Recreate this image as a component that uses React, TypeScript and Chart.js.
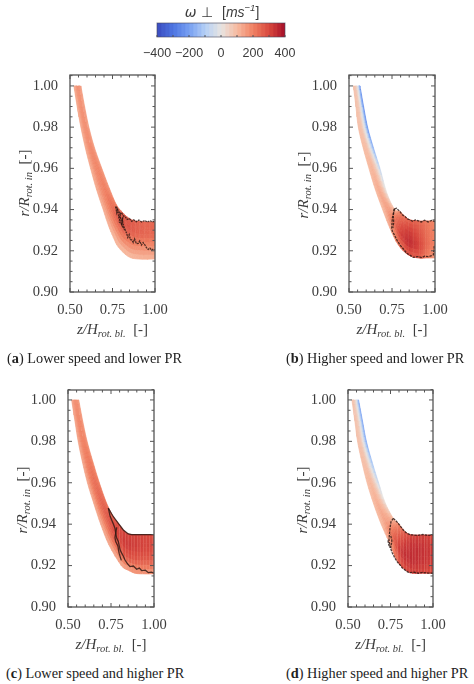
import { useEffect, useRef } from "react";
import { Chart, registerables } from "chart.js";

Chart.register(...registerables);

const yTicks = [0.9, 0.92, 0.94, 0.96, 0.98, 1.0];
const yMinor = [0.905, 0.91, 0.915, 0.925, 0.93, 0.935, 0.945, 0.95, 0.955, 0.965, 0.97, 0.975, 0.985, 0.99, 0.995, 1.005];
const xTicks = [0.5, 0.75, 1.0];
const xMinor = [0.55, 0.6, 0.65, 0.7, 0.8, 0.85, 0.9, 0.95];

const barLevels = [-400, -375, -350, -325, -300, -275, -250, -225, -200, -175, -150, -125, -100, -75, -50, -25, 0, 25, 50, 75, 100, 125, 150, 175, 200, 225, 250, 275, 300, 325, 350, 375, 400];
const barTicks = [-400, -200, 0, 200, 400];
const barMinor = [-300, -100, 100, 300];

// colour map
const mapValues = [-400, -300, -200, -100, 0, 100, 200, 300, 400];
const mapColors = [
  [58, 76, 192],
  [78, 118, 226],
  [120, 160, 242],
  [182, 208, 245],
  [232, 228, 225],
  [247, 186, 160],
  [240, 128, 98],
  [216, 72, 62],
  [165, 15, 40],
];

// panel a, lower speed and lower PR
const aInnerZ = [0.523, 0.542, 0.564, 0.59, 0.621, 0.655, 0.695, 0.725, 0.755, 0.784, 0.843, 0.902, 1.0];
const aInnerR = [1.0, 0.99, 0.98, 0.97, 0.96, 0.95, 0.94, 0.9325, 0.9265, 0.9218, 0.9172, 0.916, 0.916];
const aOuterZ = [0.564, 0.586, 0.611, 0.644, 0.687, 0.733, 0.773, 0.81, 0.842, 0.87, 0.9, 0.95, 1.0];
const aOuterR = [1.0, 0.99, 0.98, 0.97, 0.96, 0.95, 0.9423, 0.9385, 0.936, 0.9348, 0.9343, 0.934, 0.934];
const aOmegaInner = [125, 125, 125, 125, 120, 120, 115, 105, 95, 90, 90, 100, 110];
const aOmegaLow = [165, 170, 170, 175, 180, 180, 185, 195, 205, 200, 190, 185, 180];
const aOmegaHigh = [165, 170, 175, 185, 195, 205, 235, 270, 285, 275, 260, 250, 245];
const aOmegaOuter = [130, 135, 140, 145, 155, 165, 210, 255, 265, 265, 255, 245, 240];
const aTopZ = [0.769, 0.777, 0.785, 0.794, 0.802, 0.8135, 0.825, 0.836, 0.85, 0.863, 0.875, 0.89, 0.905, 0.922, 0.94, 0.955, 0.97, 0.985, 1.0];
const aTopR = [0.9414, 0.9402, 0.9394, 0.9378, 0.9386, 0.937, 0.9365, 0.9352, 0.9356, 0.9343, 0.935, 0.9341, 0.9349, 0.934, 0.9347, 0.9339, 0.9346, 0.934, 0.9344];
const aLowZ = [0.769, 0.775, 0.78, 0.787, 0.794, 0.79, 0.803, 0.808, 0.82, 0.815, 0.833, 0.84, 0.848, 0.855, 0.863, 0.872, 0.88, 0.89, 0.902, 0.91, 0.92, 0.93, 0.941, 0.95, 0.96, 0.97, 0.98, 0.99, 1.0];
const aLowR = [0.9414, 0.9385, 0.94, 0.9362, 0.937, 0.934, 0.933, 0.935, 0.93, 0.932, 0.9285, 0.9265, 0.9278, 0.9255, 0.9252, 0.924, 0.9258, 0.9235, 0.9236, 0.9248, 0.9228, 0.924, 0.9228, 0.9215, 0.9207, 0.9213, 0.9203, 0.9208, 0.9204];
const aBranchZ = [0.794, 0.8, 0.81, 0.805, 0.8, 0.815];
const aBranchR = [0.9378, 0.9345, 0.9358, 0.9325, 0.9335, 0.931];
const aStreakZ = [0.83, 0.86, 0.885, 0.91, 0.94, 0.97];
const aStreakLow = [0.9265, 0.9235, 0.9225, 0.922, 0.9215, 0.921];
const aStreakHigh = [0.9345, 0.9338, 0.9335, 0.9335, 0.9335, 0.9335];

// panel b, higher speed and lower PR
const bInnerZ = [0.525, 0.54, 0.554, 0.582, 0.616, 0.652, 0.7, 0.738, 0.787, 0.845, 0.903, 0.95, 1.0];
const bInnerR = [1.0, 0.99, 0.98, 0.97, 0.96, 0.95, 0.939, 0.931, 0.9228, 0.918, 0.9165, 0.9165, 0.9165];
const bOuterZ = [0.564, 0.585, 0.608, 0.642, 0.68, 0.72, 0.7636, 0.7965, 0.8256, 0.8547, 0.9031, 0.95, 1.0];
const bOuterR = [1.0, 0.99, 0.98, 0.97, 0.96, 0.948, 0.9403, 0.939, 0.9366, 0.935, 0.9345, 0.9345, 0.9345];
const bOmegaInner = [85, 85, 90, 95, 100, 100, 95, 120, 200, 275, 260, 200, 140];
const bOmegaLow = [55, 65, 75, 90, 110, 130, 150, 230, 320, 350, 310, 240, 185];
const bOmegaHigh = [-40, -35, -25, 0, 45, 95, 150, 225, 295, 320, 280, 230, 185];
const bOmegaOuter = [-280, -280, -265, -195, -90, 10, 90, 185, 230, 255, 240, 210, 180];
const bTopZ = [0.7636, 0.7772, 0.7965, 0.81, 0.8256, 0.84, 0.8547, 0.87, 0.885, 0.9031, 0.92, 0.94, 0.96, 0.98, 1.0];
const bTopR = [0.9403, 0.9406, 0.939, 0.9375, 0.9366, 0.9355, 0.935, 0.9343, 0.935, 0.9345, 0.934, 0.9348, 0.934, 0.9347, 0.9342];
const bLowZ = [0.7636, 0.752, 0.748, 0.752, 0.7636, 0.78, 0.7965, 0.815, 0.8353, 0.855, 0.874, 0.9, 0.9225, 0.94, 0.9613, 0.98, 0.9904, 0.9961];
const bLowR = [0.9403, 0.9358, 0.931, 0.9295, 0.9277, 0.925, 0.9228, 0.921, 0.9188, 0.9178, 0.9168, 0.9172, 0.9167, 0.9174, 0.9172, 0.9176, 0.918, 0.9228];
const bBranchZ = [0.7636, 0.757, 0.76, 0.755];
const bBranchR = [0.9403, 0.937, 0.934, 0.931];
const bStreakZ = [0.82, 0.845, 0.875, 0.91, 0.945, 0.975];
const bStreakLow = [0.922, 0.9195, 0.918, 0.918, 0.918, 0.918];
const bStreakHigh = [0.9365, 0.935, 0.9338, 0.9338, 0.9338, 0.9338];

// panel c, lower speed and higher PR
const cInnerZ = [0.521, 0.54, 0.559, 0.584, 0.613, 0.65, 0.69, 0.738, 0.81, 0.85, 0.89, 0.94, 1.0];
const cInnerR = [1.0, 0.99, 0.98, 0.97, 0.96, 0.95, 0.94, 0.93, 0.92, 0.9178, 0.9163, 0.916, 0.916];
const cOuterZ = [0.5625, 0.585, 0.611, 0.645, 0.682, 0.725, 0.7636, 0.7927, 0.8217, 0.8508, 0.8896, 0.94, 1.0];
const cOuterR = [1.0, 0.99, 0.98, 0.97, 0.96, 0.95, 0.9436, 0.9404, 0.9372, 0.9353, 0.935, 0.935, 0.935];
const cOmegaInner = [135, 135, 130, 130, 125, 125, 120, 115, 115, 130, 145, 150, 155];
const cOmegaLow = [175, 185, 190, 200, 210, 215, 220, 240, 265, 280, 275, 270, 265];
const cOmegaHigh = [170, 185, 200, 215, 235, 255, 280, 305, 320, 325, 320, 310, 305];
const cOmegaOuter = [140, 150, 165, 180, 200, 225, 255, 290, 310, 315, 315, 305, 295];
const cTopZ = [0.7345, 0.75, 0.7636, 0.7927, 0.8217, 0.8508, 0.87, 0.8896, 0.94, 1.0];
const cTopR = [0.9477, 0.9455, 0.9436, 0.9404, 0.9372, 0.9353, 0.935, 0.935, 0.935, 0.935];
const cLowZ = [0.7345, 0.745, 0.754, 0.765, 0.773, 0.782, 0.7927, 0.803, 0.812, 0.822, 0.8314, 0.845, 0.8605, 0.88, 0.899, 0.915, 0.928, 0.95, 0.967, 0.985, 1.0];
const cLowR = [0.9477, 0.9438, 0.942, 0.9398, 0.938, 0.9335, 0.9316, 0.9275, 0.926, 0.9245, 0.9227, 0.921, 0.9195, 0.9198, 0.9182, 0.9188, 0.9176, 0.9178, 0.9166, 0.9168, 0.9163];
const cBranchZ = [0.783, 0.773, 0.778, 0.79, 0.797, 0.81];
const cBranchR = [0.9385, 0.9335, 0.9315, 0.9295, 0.926, 0.9225];
const cStreakZ = [0.8, 0.815, 0.835, 0.85, 0.87, 0.885, 0.905, 0.92, 0.94, 0.955, 0.975, 0.99];
const cStreakLow = [0.927, 0.924, 0.922, 0.92, 0.9185, 0.9185, 0.918, 0.918, 0.917, 0.917, 0.917, 0.917];
const cStreakHigh = [0.939, 0.9385, 0.936, 0.935, 0.9345, 0.9345, 0.9345, 0.9345, 0.9345, 0.9345, 0.9345, 0.9345];

// panel d, higher speed and higher PR
const dInnerZ = [0.523, 0.54, 0.556, 0.582, 0.612, 0.65, 0.695, 0.741, 0.7765, 0.806, 0.8647, 0.93, 1.0];
const dInnerR = [1.0, 0.99, 0.98, 0.97, 0.96, 0.95, 0.94, 0.9316, 0.9245, 0.9203, 0.9166, 0.9163, 0.9163];
const dOuterZ = [0.562, 0.585, 0.608, 0.642, 0.68, 0.72, 0.7666, 0.796, 0.8255, 0.855, 0.884, 0.94, 1.0];
const dOuterR = [1.0, 0.99, 0.98, 0.97, 0.96, 0.95, 0.9428, 0.9404, 0.9372, 0.9353, 0.9348, 0.9348, 0.9348];
const dOmegaInner = [85, 85, 85, 90, 90, 95, 95, 130, 210, 280, 310, 310, 290];
const dOmegaLow = [50, 60, 70, 85, 105, 125, 145, 240, 320, 345, 350, 340, 320];
const dOmegaHigh = [-35, -30, -20, 0, 45, 90, 140, 220, 295, 330, 345, 340, 325];
const dOmegaOuter = [-225, -225, -210, -150, -70, 20, 100, 190, 255, 300, 315, 315, 305];
const dTopZ = [0.7666, 0.78, 0.796, 0.81, 0.8255, 0.84, 0.855, 0.87, 0.884, 0.91, 0.94, 0.97, 1.0];
const dTopR = [0.9428, 0.9418, 0.9404, 0.9388, 0.9372, 0.936, 0.9353, 0.9348, 0.9348, 0.9346, 0.935, 0.9346, 0.9348];
const dLowZ = [0.7666, 0.753, 0.747, 0.741, 0.747, 0.76, 0.7765, 0.79, 0.806, 0.82, 0.8353, 0.85, 0.8647, 0.89, 0.9137, 0.94, 0.97, 1.0];
const dLowR = [0.9428, 0.9412, 0.938, 0.9324, 0.9292, 0.9262, 0.9235, 0.9218, 0.9203, 0.9188, 0.9179, 0.917, 0.9166, 0.9168, 0.9163, 0.9167, 0.9164, 0.9163];
const dBranchZ = [0.735, 0.743, 0.752, 0.758, 0.75];
const dBranchR = [0.9322, 0.929, 0.9288, 0.932, 0.935];
const dStreakZ = [0.79, 0.81, 0.825, 0.845, 0.86, 0.88, 0.895, 0.915, 0.93, 0.95, 0.965, 0.985];
const dStreakLow = [0.922, 0.92, 0.919, 0.918, 0.917, 0.917, 0.917, 0.917, 0.917, 0.917, 0.917, 0.917];
const dStreakHigh = [0.9395, 0.938, 0.937, 0.9355, 0.935, 0.9345, 0.9345, 0.9345, 0.9345, 0.9345, 0.9345, 0.9345];

const panels = [
  {
    id: "a", caption: " Lower speed and lower PR", left: 0, top: 52, frameL: 70, frameR: 155, frameT: 75, frameB: 292, yMax: 1.0053,
    labelY: 183, labelX: 24, captionX: 7, captionY: 350, dash: [2, 0.8], streakAlpha: 0.15,
    innerZ: aInnerZ, innerR: aInnerR, outerZ: aOuterZ, outerR: aOuterR,
    omega: [aOmegaInner, aOmegaLow, aOmegaHigh, aOmegaOuter],
    contours: [[aTopZ, aTopR], [aLowZ, aLowR], [aBranchZ, aBranchR]],
    streaks: [aStreakZ, aStreakLow, aStreakHigh],
  },
  {
    id: "b", caption: " Higher speed and lower PR", left: 237, top: 52, frameL: 349, frameR: 435, frameT: 75, frameB: 292, yMax: 1.0053,
    labelY: 185, labelX: 303, captionX: 286, captionY: 350, dash: [2.5, 1], streakAlpha: 0.12,
    innerZ: bInnerZ, innerR: bInnerR, outerZ: bOuterZ, outerR: bOuterR,
    omega: [bOmegaInner, bOmegaLow, bOmegaHigh, bOmegaOuter],
    contours: [[bTopZ, bTopR], [bLowZ, bLowR], [bBranchZ, bBranchR]],
    streaks: [bStreakZ, bStreakLow, bStreakHigh],
  },
  {
    id: "c", caption: " Lower speed and higher PR", left: 0, top: 367, frameL: 68, frameR: 154, frameT: 390, frameB: 607, yMax: 1.0048,
    labelY: 500, labelX: 22, captionX: 6, captionY: 665, dash: [], streakAlpha: 0.3,
    innerZ: cInnerZ, innerR: cInnerR, outerZ: cOuterZ, outerR: cOuterR,
    omega: [cOmegaInner, cOmegaLow, cOmegaHigh, cOmegaOuter],
    contours: [[cTopZ, cTopR], [cLowZ, cLowR], [cBranchZ, cBranchR]],
    streaks: [cStreakZ, cStreakLow, cStreakHigh],
  },
  {
    id: "d", caption: " Higher speed and higher PR", left: 237, top: 367, frameL: 348, frameR: 433, frameT: 390, frameB: 607, yMax: 1.0048,
    labelY: 500, labelX: 302, captionX: 286, captionY: 665, dash: [2.5, 1], streakAlpha: 0.3,
    innerZ: dInnerZ, innerR: dInnerR, outerZ: dOuterZ, outerR: dOuterR,
    omega: [dOmegaInner, dOmegaLow, dOmegaHigh, dOmegaOuter],
    contours: [[dTopZ, dTopR], [dLowZ, dLowR], [dBranchZ, dBranchR]],
    streaks: [dStreakZ, dStreakLow, dStreakHigh],
  },
];

const CANVAS_W = 237;
const CANVAS_H = 295;
const STEPS_ALONG = 4;
const STEPS_ACROSS = 3;
const SERIF = '"Liberation Serif"';
const SANS = '"Liberation Sans"';
const INK = "#3c3c3c";
const FRAME = "#555555";

function lerp(a: number, b: number, t: number) {
  return a + (b - a) * t;
}

// rounds the corners between stations so the mesh edges are not kinked
function curve(values: number[], i: number, t: number) {
  const p0 = values[Math.max(i - 1, 0)];
  const p1 = values[i];
  const p2 = values[i + 1];
  const p3 = values[Math.min(i + 2, values.length - 1)];
  return (
    0.5 *
    (2 * p1 + (p2 - p0) * t + (2 * p0 - 5 * p1 + 4 * p2 - p3) * t * t + (3 * p1 - p0 - 3 * p2 + p3) * t * t * t)
  );
}

function omegaColor(value: number) {
  const v = Math.max(-400, Math.min(400, value));
  let k = 0;
  while (k < mapValues.length - 2 && v > mapValues[k + 1]) k++;
  const t = (v - mapValues[k]) / (mapValues[k + 1] - mapValues[k]);
  const c = mapColors[k].map((ch, i) => Math.round(lerp(ch, mapColors[k + 1][i], t)));
  return `rgb(${c[0]}, ${c[1]}, ${c[2]})`;
}

function cellDataset(points: { x: number; y: number }[], color: string) {
  return {
    data: points,
    showLine: true,
    fill: "shape",
    backgroundColor: color,
    borderColor: color,
    borderWidth: 0.7,
    pointRadius: 0,
  };
}

// shaded mesh between the inner and outer edge of the passage
function bandDatasets(p: (typeof panels)[number]) {
  const out: any[] = [];
  const spot = (i: number, u: number, t: number) => ({
    x: lerp(curve(p.innerZ, i, u), curve(p.outerZ, i, u), t),
    y: lerp(curve(p.innerR, i, u), curve(p.outerR, i, u), t),
  });
  const layers = p.omega.length - 1;
  for (let i = 0; i < p.innerZ.length - 1; i++) {
    for (let su = 0; su < STEPS_ALONG; su++) {
      for (let j = 0; j < layers; j++) {
        for (let sv = 0; sv < STEPS_ACROSS; sv++) {
          const u0 = su / STEPS_ALONG;
          const u1 = (su + 1) / STEPS_ALONG;
          const t0 = (j + sv / STEPS_ACROSS) / layers;
          const t1 = (j + (sv + 1) / STEPS_ACROSS) / layers;
          const uc = (su + 0.5) / STEPS_ALONG;
          const vc = (sv + 0.5) / STEPS_ACROSS;
          const value = lerp(
            lerp(p.omega[j][i], p.omega[j][i + 1], uc),
            lerp(p.omega[j + 1][i], p.omega[j + 1][i + 1], uc),
            vc,
          );
          const a = spot(i, u0, t0);
          out.push(cellDataset([a, spot(i, u1, t0), spot(i, u1, t1), spot(i, u0, t1), a], omegaColor(value)));
        }
      }
    }
  }
  return out;
}

function contourDatasets(p: (typeof panels)[number]) {
  return p.contours.map(([zs, rs]) => ({
    data: zs.map((z, i) => ({ x: z, y: rs[i] })),
    showLine: true,
    borderColor: "rgba(45, 25, 20, 0.82)",
    borderWidth: 1.3,
    borderDash: p.dash,
    pointRadius: 0,
    fill: false,
  }));
}

// lighter vertical stripes in the core of the passage
function streakDatasets(p: (typeof panels)[number]) {
  const [zs, lows, highs] = p.streaks;
  return zs.map((z, i) => ({
    data: [
      { x: z, y: lows[i] },
      { x: z, y: highs[i] },
    ],
    showLine: true,
    borderColor: `rgba(250, 185, 165, ${p.streakAlpha})`,
    borderWidth: 0.9,
    pointRadius: 0,
    fill: false,
  }));
}

type Run = { text: string; font: string; dy?: number };

// text with sub/superscripts, centred on (x, y)
function drawRuns(ctx: CanvasRenderingContext2D, runs: Run[], x: number, y: number, rotate = false) {
  ctx.save();
  ctx.translate(x, y);
  if (rotate) ctx.rotate(-Math.PI / 2);
  ctx.fillStyle = INK;
  ctx.textAlign = "left";
  ctx.textBaseline = "alphabetic";
  let total = 0;
  for (const run of runs) {
    ctx.font = run.font;
    total += ctx.measureText(run.text).width;
  }
  let pos = -total / 2;
  for (const run of runs) {
    ctx.font = run.font;
    ctx.fillText(run.text, pos, 5 + (run.dy ?? 0));
    pos += ctx.measureText(run.text).width;
  }
  ctx.restore();
}

const xTitle: Run[] = [
  { text: "z/H", font: `italic 15px ${SERIF}` },
  { text: "rot. bl.", font: `italic 10.5px ${SERIF}`, dy: 3 },
  { text: "  [-]", font: `15px ${SERIF}` },
];
const yTitle: Run[] = [
  { text: "r/R", font: `italic 15px ${SERIF}` },
  { text: "rot. in", font: `italic 10.5px ${SERIF}`, dy: 3 },
  { text: "  [-]", font: `15px ${SERIF}` },
];

const framePlugin = {
  id: "frame",
  afterDatasetsDraw(chart: any) {
    const { ctx, chartArea: area, scales } = chart;
    ctx.save();
    ctx.strokeStyle = FRAME;
    ctx.lineWidth = 1;
    const tickX = (values: number[], len: number) => {
      for (const v of values) {
        const px = scales.x.getPixelForValue(v);
        ctx.beginPath();
        ctx.moveTo(px, area.bottom);
        ctx.lineTo(px, area.bottom - len);
        ctx.moveTo(px, area.top);
        ctx.lineTo(px, area.top + len);
        ctx.stroke();
      }
    };
    const tickY = (values: number[], len: number) => {
      for (const v of values) {
        const py = scales.y.getPixelForValue(v);
        ctx.beginPath();
        ctx.moveTo(area.left, py);
        ctx.lineTo(area.left + len, py);
        ctx.moveTo(area.right, py);
        ctx.lineTo(area.right - len, py);
        ctx.stroke();
      }
    };
    tickX(xTicks, 4);
    tickX(xMinor, 2.5);
    tickY(yTicks, 4);
    tickY(yMinor, 2.5);
    ctx.lineWidth = 1.3;
    ctx.strokeRect(area.left, area.top, area.right - area.left, area.bottom - area.top);
    ctx.restore();
  },
};

function Panel({ panel }: { panel: (typeof panels)[number] }) {
  const ref = useRef<HTMLCanvasElement>(null);

  useEffect(() => {
    if (!ref.current) return;
    const chart: any = new Chart(ref.current, {
      type: "scatter",
      data: { datasets: [...contourDatasets(panel), ...streakDatasets(panel), ...bandDatasets(panel)] as any },
      options: {
        animation: false,
        responsive: false,
        events: [],
        layout: {
          autoPadding: false,
          padding: {
            left: 0,
            right: panel.left + CANVAS_W - panel.frameR,
            top: panel.frameT - panel.top,
            bottom: 0,
          },
        },
        plugins: { legend: { display: false }, tooltip: { enabled: false } },
        scales: {
          x: {
            type: "linear",
            bounds: "data",
            min: 0.5,
            max: 1.0,
            afterFit: (s: any) => {
              s.height = panel.top + CANVAS_H - panel.frameB;
            },
            afterBuildTicks: (s: any) => {
              s.ticks = xTicks.map((value) => ({ value }));
            },
            grid: { display: false, drawTicks: false },
            border: { display: false },
            ticks: {
              color: INK,
              padding: 9,
              maxRotation: 0,
              autoSkip: false,
              font: { family: SERIF, size: 14.5 },
              callback: (v: any) => Number(v).toFixed(2),
            },
          },
          y: {
            type: "linear",
            bounds: "data",
            min: 0.9,
            max: panel.yMax,
            afterFit: (s: any) => {
              s.width = panel.frameL - panel.left;
            },
            afterBuildTicks: (s: any) => {
              s.ticks = yTicks.map((value) => ({ value }));
            },
            grid: { display: false, drawTicks: false },
            border: { display: false },
            ticks: {
              color: INK,
              padding: 12,
              autoSkip: false,
              font: { family: SERIF, size: 14.5 },
              callback: (v: any) => Number(v).toFixed(2),
            },
          },
        },
      },
      plugins: [
        framePlugin,
        {
          id: "titles",
          afterDraw(c: any) {
            const midX = (c.chartArea.left + c.chartArea.right) / 2;
            drawRuns(c.ctx, xTitle, midX, panel.frameB - panel.top + 37);
            drawRuns(c.ctx, yTitle, panel.labelX - panel.left, panel.labelY - panel.top, true);
          },
        },
      ],
    } as any);

    // the layout moves the plot area a little, pull it back onto the frame
    const wanted = panel.frameT - panel.top;
    const drift = chart.chartArea.top - wanted;
    if (Math.abs(drift) > 0.2) {
      chart.options.layout.padding.top = wanted - drift;
      chart.update();
    }
    return () => chart.destroy();
  }, [panel]);

  return (
    <canvas
      ref={ref}
      width={CANVAS_W}
      height={CANVAS_H}
      style={{ position: "absolute", left: panel.left, top: panel.top, width: CANVAS_W, height: CANVAS_H, filter: "blur(0.3px)" }}
    />
  );
}

function ColorBar() {
  const ref = useRef<HTMLCanvasElement>(null);

  useEffect(() => {
    if (!ref.current) return;
    const datasets = barLevels.slice(0, -1).map((level, i) => {
      const next = barLevels[i + 1];
      const p0 = { x: level, y: 0 };
      return cellDataset(
        [p0, { x: next, y: 0 }, { x: next, y: 1 }, { x: level, y: 1 }, p0],
        omegaColor((level + next) / 2),
      );
    });
    const chart = new Chart(ref.current, {
      type: "scatter",
      data: { datasets } as any,
      options: {
        animation: false,
        responsive: false,
        events: [],
        layout: { autoPadding: false, padding: { left: 0, right: 85, top: 23, bottom: 0 } },
        plugins: { legend: { display: false }, tooltip: { enabled: false } },
        scales: {
          x: {
            type: "linear",
            min: -400,
            max: 400,
            afterFit: (s: any) => {
              s.height = 25;
            },
            afterBuildTicks: (s: any) => {
              s.ticks = barTicks.map((value) => ({ value }));
            },
            grid: { display: false, drawTicks: false },
            border: { display: false },
            ticks: {
              color: INK,
              padding: 9,
              maxRotation: 0,
              autoSkip: false,
              font: { family: SANS, size: 12.5 },
              callback: (v: any) => String(v).replace("-", "\u2212"),
            },
          },
          y: {
            type: "linear",
            min: 0,
            max: 1,
            display: true,
            afterFit: (s: any) => {
              s.width = 57;
            },
            grid: { display: false, drawTicks: false },
            border: { display: false },
            ticks: { display: false },
          },
        },
      },
      plugins: [
        {
          id: "barFrame",
          afterDatasetsDraw(c: any) {
            const { ctx, chartArea: area, scales } = c;
            ctx.save();
            ctx.strokeStyle = "#555555";
            ctx.lineWidth = 1;
            for (const v of [...barTicks, ...barMinor]) {
              const px = scales.x.getPixelForValue(v);
              ctx.beginPath();
              ctx.moveTo(px, area.bottom);
              ctx.lineTo(px, area.bottom - 2);
              ctx.stroke();
            }
            ctx.strokeStyle = "rgba(70,70,90,0.6)";
            ctx.strokeRect(area.left, area.top, area.right - area.left, area.bottom - area.top);
            ctx.restore();
          },
          afterDraw(c: any) {
            drawRuns(
              c.ctx,
              [
                { text: "\u03c9 \u22a5  ", font: `italic 14px "DejaVu Sans"` },
                { text: "[", font: `14px ${SANS}` },
                { text: "ms", font: `italic 14px ${SANS}` },
                { text: "\u22121", font: `italic 9.5px ${SANS}`, dy: -6 },
                { text: "]", font: `14px ${SANS}` },
              ],
              122,
              12,
            );
          },
        },
      ],
    } as any);
    return () => chart.destroy();
  }, []);

  return (
    <canvas
      ref={ref}
      width={270}
      height={62}
      style={{ position: "absolute", left: 100, top: 0, width: 270, height: 62, filter: "blur(0.3px)" }}
    />
  );
}

export default function App() {
  return (
    <div style={{ position: "absolute", left: 0, top: 0, width: 474, height: 684, background: "#fff", overflow: "hidden" }}>
      <ColorBar />
      {panels.map((panel) => (
        <Panel key={panel.id} panel={panel} />
      ))}
      {panels.map((panel) => (
        <div
          key={panel.id}
          style={{
            position: "absolute",
            left: panel.captionX,
            top: panel.captionY,
            whiteSpace: "pre",
            fontFamily: SERIF,
            fontSize: 14.3,
            color: "#222",
          }}
        >
          (<b>{panel.id}</b>){panel.caption}
        </div>
      ))}
    </div>
  );
}
